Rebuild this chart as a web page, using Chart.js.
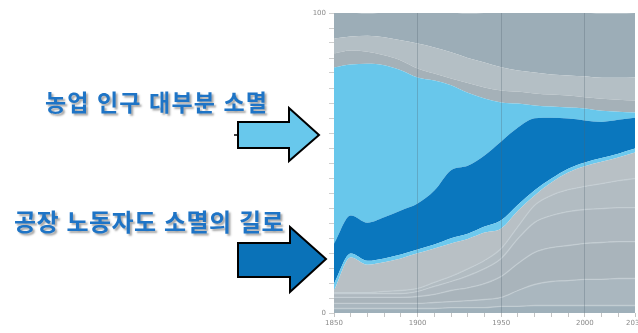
<!DOCTYPE html>
<html lang="ko">
<head>
<meta charset="utf-8">
<script src="https://cdn.jsdelivr.net/npm/chart.js@4.4.1/dist/chart.umd.min.js"></script>
<style>
  html, body { margin: 0; padding: 0; background: #fff; overflow: hidden; }
  #wrap { position: relative; width: 638px; height: 333px; overflow: hidden; }
  #chartBox { position: absolute; left: 0; top: 0; width: 650px; height: 333px; }
  .note {
    position: absolute; white-space: nowrap;
    font-family: "Noto Sans CJK KR", "Noto Sans", sans-serif;
    font-weight: 700; color: #1e74c6;
    text-shadow: 2px 2px 2px rgba(60,60,60,0.45);
    line-height: 1;
  }
  #note1 { left: 45px; top: 90px; font-size: 23px; letter-spacing: 1.1px; }
  #note2 { left: 14px; top: 209px; font-size: 24px; letter-spacing: 0.5px; }
  svg.arrows { position: absolute; left: 0; top: 0; }
</style>
</head>
<body>
<div id="wrap">
  <div id="chartBox"><canvas id="c" width="650" height="333"></canvas></div>
  <div class="note" id="note1">농업 인구 대부분 소멸</div>
  <div class="note" id="note2">공장 노동자도 소멸의 길로</div>
  <svg class="arrows" width="638" height="333">
    <line x1="234" y1="135" x2="240" y2="135" stroke="#000" stroke-width="1.5"/>
    <polygon points="238,122 289,122 289,108 319,135 289,161 289,148 238,148"
             fill="#68c8ec" stroke="#000" stroke-width="2" stroke-linejoin="miter"/>
    <polygon points="238,243 290,243 290,227 326,259 290,292 290,277 238,277"
             fill="#0a72b8" stroke="#000" stroke-width="2" stroke-linejoin="miter"/>
  </svg>
</div>
<script>
// Share of workforce by sector, percent, stacked bottom to top
const years = [1850, 1860, 1870, 1880, 1890, 1900, 1910, 1920, 1930, 1940,
               1950, 1960, 1970, 1980, 1990, 2000, 2010, 2020, 2030];

const service1 = [1.5, 1.5, 1.5, 1.5, 1.5, 1.5, 1.5, 1.8, 1.8, 1.8, 2.2, 2.2, 2.5, 2.5, 2.5, 2.5, 2.5, 2.5, 2.5];
const service2 = [1.7, 1.7, 1.7, 1.7, 1.7, 1.7, 2.0, 2.0, 2.3, 2.7, 3.0, 5.3, 7.0, 8.0, 8.3, 8.7, 8.7, 9.0, 9.0];
const service3 = [2.0, 2.0, 2.0, 2.0, 2.0, 2.3, 2.7, 3.7, 4.3, 5.3, 7.0, 9.0, 10.7, 11.3, 11.7, 12.0, 12.3, 12.3, 12.3];
const service4 = [1.3, 1.3, 1.3, 1.3, 1.3, 1.7, 2.7, 3.0, 4.0, 5.0, 6.0, 8.3, 10.0, 10.7, 11.3, 11.3, 11.3, 11.3, 11.3];
const service5 = [0.3, 0.3, 0.3, 0.7, 1.0, 1.0, 1.3, 1.7, 2.3, 2.7, 3.3, 4.0, 5.7, 6.7, 7.3, 7.7, 8.3, 9.0, 9.7];
const service6 = [0.7, 11.7, 9.3, 9.7, 10.7, 11.7, 11.3, 11.0, 10.0, 9.3, 6.7, 5.3, 3.3, 4.3, 5.7, 6.7, 7.3, 7.7, 8.7];
const mining   = [2.3, 1.3, 1.3, 1.3, 1.3, 1.3, 1.3, 1.7, 1.7, 2.0, 2.7, 2.0, 1.7, 1.3, 1.3, 1.3, 1.3, 1.3, 1.3];
const factory  = [13.3, 12.7, 12.7, 13.7, 14.7, 15.3, 18.0, 22.7, 22.7, 23.7, 26.3, 25.7, 24.0, 20.3, 16.7, 14.0, 12.0, 11.3, 10.3];
const farming  = [58.7, 50.3, 53.0, 50.7, 46.7, 42.0, 36.7, 28.3, 24.3, 19.0, 13.0, 8.0, 4.3, 3.7, 3.7, 4.0, 3.7, 2.7, 1.7];
const upper1   = [4.7, 4.7, 4.0, 3.3, 3.3, 3.0, 2.3, 2.3, 3.3, 3.7, 4.0, 4.0, 4.0, 4.0, 4.0, 3.7, 4.0, 4.0, 4.0];
const upper2   = [5.0, 4.7, 5.3, 6.0, 6.7, 8.3, 8.7, 8.7, 8.3, 8.3, 7.7, 7.0, 7.0, 6.7, 6.7, 7.0, 7.0, 7.3, 7.7];
const upper3   = [8.5, 7.9, 7.5, 8.2, 9.2, 10.2, 11.5, 13.2, 14.9, 16.5, 18.2, 19.2, 19.9, 20.5, 20.9, 21.2, 21.5, 21.5, 21.5];

const xLabelYears = [1850, 1900, 1950, 2000, 2030];
const gridYears = [1900, 1950, 2000];
const yLabelValues = [0, 100];

const seriesList = [
  { data: service1, color: '#9fb0ba', line: 'rgba(198,207,212,0.75)' },
  { data: service2, color: '#aab7bf', line: 'rgba(198,207,212,0.75)' },
  { data: service3, color: '#a9b4bb', line: 'rgba(198,207,212,0.75)' },
  { data: service4, color: '#aeb8bf', line: 'rgba(198,207,212,0.75)' },
  { data: service5, color: '#b2bcc2', line: 'rgba(198,207,212,0.75)' },
  { data: service6, color: '#b8c0c5', line: 'rgba(0,0,0,0)' },
  { data: mining,   color: '#6dc9ee', line: 'rgba(0,0,0,0)' },
  { data: factory,  color: '#0a77be', line: 'rgba(0,0,0,0)' },
  { data: farming,  color: '#68c7eb', line: 'rgba(0,0,0,0)' },
  { data: upper1,   color: '#a5b1b8', line: 'rgba(0,0,0,0)' },
  { data: upper2,   color: '#b4bfc5', line: 'rgba(0,0,0,0)' },
  { data: upper3,   color: '#9cadb7', line: 'rgba(0,0,0,0)' }
];

const datasets = seriesList.map((s, i) => ({
  data: s.data.map((v, j) => ({ x: years[j], y: v })),
  backgroundColor: s.color,
  borderColor: s.line,
  borderWidth: i < 5 ? 1.3 : 0,
  pointRadius: 0,
  cubicInterpolationMode: 'monotone',
  fill: i === 0 ? 'origin' : '-1'
}));

new Chart(document.getElementById('c'), {
  type: 'line',
  data: { datasets },
  options: {
    responsive: false,
    animation: false,
    events: [],
    layout: { padding: { left: 0, right: 15, top: 13, bottom: 0 } },
    plugins: { legend: { display: false }, tooltip: { enabled: false } },
    scales: {
      x: {
        type: 'linear', min: 1850, max: 2030, z: 1,
        afterFit: s => { s.height = 20; },
        ticks: {
          stepSize: 10, autoSkip: false, maxRotation: 0, padding: 2,
          color: '#8a8a8a', font: { family: 'DejaVu Sans', size: 7 },
          callback: v => xLabelYears.includes(v) ? String(v) : ''
        },
        grid: {
          z: 1,
          color: c => gridYears.includes(c.tick && c.tick.value) ? 'rgba(80,100,112,0.3)' : 'rgba(0,0,0,0)',
          tickColor: '#c4c4c4', tickLength: 4, lineWidth: 1
        },
        border: { display: false }
      },
      y: {
        stacked: true, min: 0, max: 100,
        afterFit: s => { s.width = 334; },
        ticks: {
          stepSize: 5, autoSkip: false, padding: 3,
          color: '#8a8a8a', font: { family: 'DejaVu Sans', size: 7 },
          callback: v => yLabelValues.includes(v) ? String(v) : ''
        },
        grid: { drawOnChartArea: false, tickColor: '#cfcfcf', tickLength: 5 },
        border: { color: '#d5d5d5' }
      }
    }
  }
});
</script>
</body>
</html>
